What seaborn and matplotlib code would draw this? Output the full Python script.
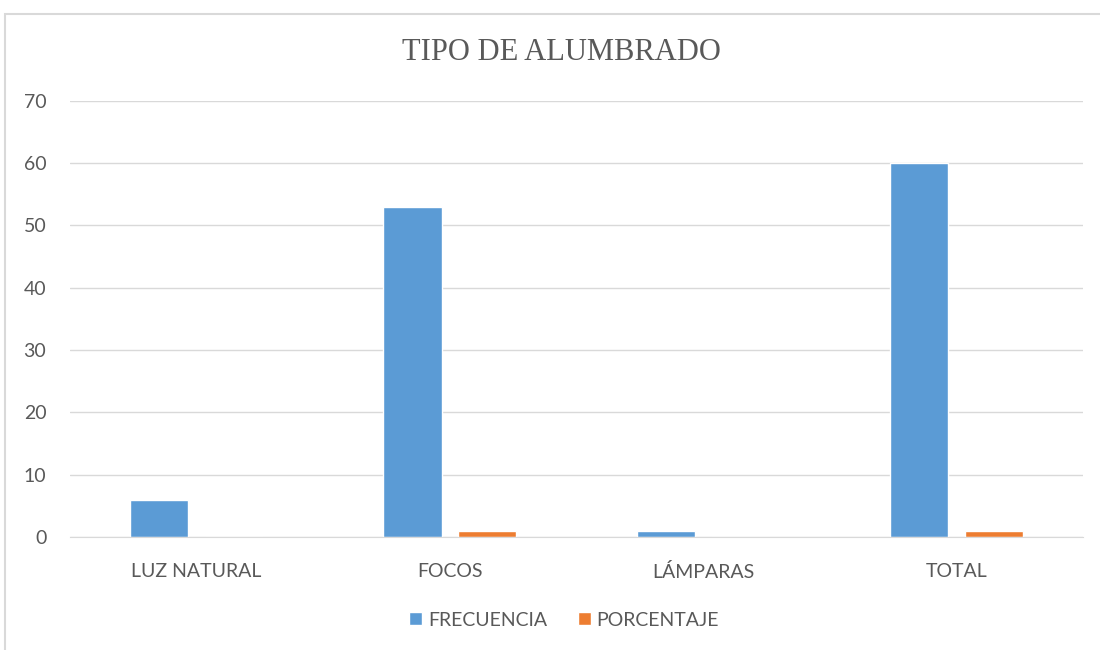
import pandas as pd
import seaborn as sns
import matplotlib.pyplot as plt
from matplotlib.patches import Rectangle, Patch

categorias = ['LUZ NATURAL', 'FOCOS', 'LÁMPARAS', 'TOTAL']
frecuencia = [6, 53, 1, 60]
porcentaje = [0, 1, 0, 1]
series = ['FRECUENCIA', 'PORCENTAJE']
colores = ['#5B9BD5', '#ED7D31']

df = pd.DataFrame({'categoria': categorias * 2,
                   'serie': [series[0]] * 4 + [series[1]] * 4,
                   'valor': frecuencia + porcentaje})

sns.set_style('white')
plt.rcParams['font.family'] = ['Lato', 'DejaVu Sans']

fig = plt.figure(figsize=(11, 6.5), dpi=100)
ax = fig.add_axes([0.0636, 0.174, 0.921, 0.671])

sns.barplot(data=df, x='categoria', y='valor', hue='serie', palette=colores,
            width=0.59, gap=0.22, ax=ax, legend=False, saturation=1)

ax.set_ylim(0, 70)
ax.set_yticks(range(0, 71, 10))
ax.grid(axis='y', color='#D9D9D9', linewidth=1)
ax.set_axisbelow(True)
for s in ['top', 'left', 'right']:
    ax.spines[s].set_visible(False)
ax.spines['bottom'].set_color('#D9D9D9')
ax.tick_params(axis='both', length=0, labelsize=14, labelcolor='#595959')
ax.tick_params(axis='y', pad=17)
ax.tick_params(axis='x', pad=19)
ax.set_xlabel('')
ax.set_ylabel('')

fig.text(0.51, 0.92, 'TIPO DE ALUMBRADO', ha='center', va='center',
         fontsize=22, color='#595959', family='Liberation Serif')

handles = [Patch(facecolor=c, label=s) for s, c in zip(series, colores)]
fig.legend(handles=handles, loc='center', bbox_to_anchor=(0.513, 0.046), ncol=2,
           frameon=False, fontsize=14, handlelength=0.65, handleheight=0.65,
           handletextpad=0.3, columnspacing=1.6, labelcolor='#595959')

fig.patches.append(Rectangle((5 / 1100, -0.05), 1.1, 1 - 14 / 650 + 0.05,
                             transform=fig.transFigure, fill=False,
                             edgecolor='#D9D9D9', linewidth=1.5))

plt.savefig('out.png', dpi=100)
